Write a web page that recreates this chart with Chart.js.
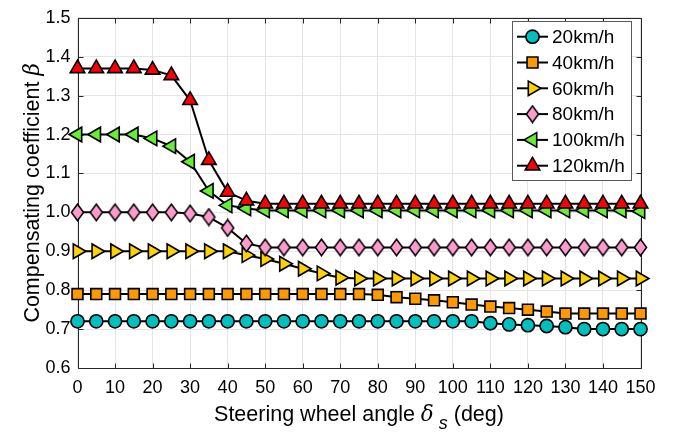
<!DOCTYPE html>
<html>
<head>
<meta charset="utf-8">
<script src="https://cdn.jsdelivr.net/npm/chart.js@4/dist/chart.umd.min.js"></script>
<style>
  html, body { margin: 0; padding: 0; background: #fff; }
  #wrap { width: 692px; height: 437px; }
</style>
</head>
<body>
<div id="wrap"><canvas id="c" width="692" height="437"></canvas></div>
<script>
// Steering wheel angle samples (deg)
const angles = [0, 5, 10, 15, 20, 25, 30, 35, 40, 45, 50, 55, 60, 65, 70, 75,
                80, 85, 90, 95, 100, 105, 110, 115, 120, 125, 130, 135, 140, 145, 150];

const speedLabels = ['20km/h', '40km/h', '60km/h', '80km/h', '100km/h', '120km/h'];

// Compensating coefficient beta for each vehicle speed
const beta20 = [0.72, 0.72, 0.72, 0.72, 0.72, 0.72, 0.72, 0.72, 0.72, 0.72, 0.72, 0.72, 0.72, 0.72, 0.72, 0.72,
                0.72, 0.72, 0.72, 0.72, 0.72, 0.72, 0.715, 0.712, 0.71, 0.708, 0.705, 0.70, 0.70, 0.70, 0.70];
const beta40 = [0.79, 0.79, 0.79, 0.79, 0.79, 0.79, 0.79, 0.79, 0.79, 0.79, 0.79, 0.79, 0.79, 0.79, 0.79, 0.79,
                0.788, 0.782, 0.778, 0.774, 0.769, 0.763, 0.758, 0.754, 0.75, 0.745, 0.74, 0.74, 0.74, 0.74, 0.74];
const beta60 = [0.90, 0.90, 0.90, 0.90, 0.90, 0.90, 0.90, 0.90, 0.90, 0.89, 0.88, 0.868, 0.855, 0.843, 0.832, 0.83,
                0.83, 0.83, 0.83, 0.83, 0.83, 0.83, 0.83, 0.83, 0.83, 0.83, 0.83, 0.83, 0.83, 0.83, 0.83];
const beta80 = [1.00, 1.00, 1.00, 1.00, 1.00, 1.00, 0.997, 0.988, 0.96, 0.92, 0.91, 0.91, 0.91, 0.91, 0.91, 0.91,
                0.91, 0.91, 0.91, 0.91, 0.91, 0.91, 0.91, 0.91, 0.91, 0.91, 0.91, 0.91, 0.91, 0.91, 0.91];
const beta100 = [1.20, 1.20, 1.20, 1.20, 1.19, 1.17, 1.13, 1.055, 1.018, 1.01, 1.005, 1.005, 1.005, 1.005, 1.005, 1.005,
                 1.005, 1.005, 1.005, 1.005, 1.005, 1.005, 1.005, 1.005, 1.005, 1.005, 1.005, 1.005, 1.005, 1.005, 1.003];
const beta120 = [1.37, 1.37, 1.37, 1.37, 1.366, 1.352, 1.288, 1.134, 1.052, 1.03, 1.022, 1.022, 1.022, 1.022, 1.022, 1.022,
                 1.022, 1.022, 1.022, 1.022, 1.022, 1.022, 1.022, 1.022, 1.022, 1.022, 1.022, 1.022, 1.022, 1.022, 1.022];

const xTicks = [0, 10, 20, 30, 40, 50, 60, 70, 80, 90, 100, 110, 120, 130, 140, 150];
const yTicks = [0.6, 0.7, 0.8, 0.9, 1.0, 1.1, 1.2, 1.3, 1.4, 1.5];

const FONT = "'Liberation Sans', Arial, Helvetica, sans-serif";
const AXIS_COLOR = '#262626';

// Tall diamond marker
function makeDiamond(fill) {
  const c = document.createElement('canvas');
  c.width = 15; c.height = 19;
  const g = c.getContext('2d');
  g.beginPath();
  g.moveTo(7.5, 1.2);
  g.lineTo(13.6, 9.5);
  g.lineTo(7.5, 17.8);
  g.lineTo(1.4, 9.5);
  g.closePath();
  g.fillStyle = fill;
  g.fill();
  g.lineWidth = 1.5;
  g.strokeStyle = '#000';
  g.stroke();
  return c;
}

const seriesValues = [beta20, beta40, beta60, beta80, beta100, beta120];
const seriesStyle = [
  { color: '#00BFBF', pointStyle: 'circle',   radius: 6.6, rotation: 0 },
  { color: '#FF9900', pointStyle: 'rect',     radius: 7.7, rotation: 0 },
  { color: '#FFD200', pointStyle: 'triangle', radius: 8.4, rotation: 90 },
  { color: '#FF9ACD', pointStyle: makeDiamond('#FF9ACD'), radius: 7.5, rotation: 0 },
  { color: '#66EE33', pointStyle: 'triangle', radius: 8.4, rotation: -90 },
  { color: '#FF0000', pointStyle: 'triangle', radius: 8.4, rotation: 0 }
];

const datasets = seriesValues.map((vals, i) => ({
  label: speedLabels[i],
  data: angles.map((a, k) => ({ x: a, y: vals[k] })),
  borderColor: '#000',
  borderWidth: 2,
  backgroundColor: seriesStyle[i].color,
  pointBackgroundColor: seriesStyle[i].color,
  pointBorderColor: '#000',
  pointBorderWidth: 1.6,
  pointStyle: seriesStyle[i].pointStyle,
  pointRadius: seriesStyle[i].radius,
  pointRotation: seriesStyle[i].rotation,
  tension: 0,
  fill: false,
  clip: false,
  order: seriesValues.length - i
}));

// Box around the axes with inward ticks
const framePlugin = {
  id: 'frame',
  beforeDatasetsDraw(chart) {
    const { ctx, chartArea: a, scales: { x, y } } = chart;
    const L = Math.round(a.left) + 0.5, R = Math.round(a.right) + 0.5;
    const T = Math.round(a.top) + 0.5, B = Math.round(a.bottom) + 0.5;
    ctx.save();
    ctx.strokeStyle = AXIS_COLOR;
    ctx.lineWidth = 1;
    ctx.beginPath();
    ctx.rect(L, T, R - L, B - T);
    const tl = 5;
    xTicks.forEach(v => {
      const px = Math.round(x.getPixelForValue(v)) + 0.5;
      ctx.moveTo(px, B); ctx.lineTo(px, B - tl);
      ctx.moveTo(px, T); ctx.lineTo(px, T + tl);
    });
    yTicks.forEach(v => {
      const py = Math.round(y.getPixelForValue(v)) + 0.5;
      ctx.moveTo(L, py); ctx.lineTo(L + tl, py);
      ctx.moveTo(R, py); ctx.lineTo(R - tl, py);
    });
    ctx.stroke();
    ctx.restore();
  }
};

// Axis titles with Greek symbols and subscript
const titlePlugin = {
  id: 'titles',
  afterDraw(chart) {
    const { ctx, chartArea: a } = chart;
    ctx.save();
    ctx.fillStyle = '#000';
    ctx.textBaseline = 'alphabetic';

    // x title
    const size = 21.5;
    const parts = [
      { t: 'Steering wheel angle ', f: `${size}px ${FONT}`, dy: 0 },
      { t: 'δ', f: `italic ${size}px 'DejaVu Serif', serif`, dy: 0 },
      { t: ' s', f: `italic ${Math.round(size * 0.82)}px ${FONT}`, dy: 8 },
      { t: ' (deg)', f: `${size}px ${FONT}`, dy: 0 }
    ];
    let w = 0;
    parts.forEach(p => { ctx.font = p.f; p.w = ctx.measureText(p.t).width; w += p.w; });
    let cx = (a.left + a.right) / 2 - w / 2;
    const base = 421;
    parts.forEach(p => { ctx.font = p.f; ctx.fillText(p.t, cx, base + p.dy); cx += p.w; });

    // y title, rotated
    const yparts = [
      { t: 'Compensating coefficient ', f: `${size}px ${FONT}` },
      { t: 'β', f: `italic ${size}px 'DejaVu Serif', serif` }
    ];
    let yw = 0;
    yparts.forEach(p => { ctx.font = p.f; p.w = ctx.measureText(p.t).width; yw += p.w; });
    ctx.translate(38.5, (a.top + a.bottom) / 2);
    ctx.rotate(-Math.PI / 2);
    let sx = -yw / 2;
    yparts.forEach(p => { ctx.font = p.f; ctx.fillText(p.t, sx, 0); sx += p.w; });
    ctx.restore();
  }
};

// Boxed legend with line samples and markers
const legendPlugin = {
  id: 'boxLegend',
  afterDraw(chart) {
    const { ctx } = chart;
    const box = { x: 512.5, y: 21.5, w: 119, h: 159 };
    ctx.save();
    ctx.fillStyle = '#fff';
    ctx.fillRect(box.x, box.y, box.w, box.h);
    ctx.strokeStyle = '#5a5a5a';
    ctx.lineWidth = 1;
    ctx.strokeRect(box.x, box.y, box.w, box.h);
    const rowH = 25.8;
    speedLabels.forEach((lab, i) => {
      const cy = 36.7 + i * rowH;
      ctx.strokeStyle = '#000';
      ctx.lineWidth = 2;
      ctx.beginPath();
      ctx.moveTo(517, cy); ctx.lineTo(548, cy);
      ctx.stroke();
      const st = seriesStyle[i];
      ctx.fillStyle = st.color;
      ctx.strokeStyle = '#000';
      ctx.lineWidth = 1.6;
      Chart.helpers.drawPoint(ctx, {
        pointStyle: st.pointStyle, radius: st.radius, rotation: st.rotation, borderWidth: 1.6
      }, 532.5, cy);
      ctx.fillStyle = '#000';
      ctx.font = `19px ${FONT}`;
      ctx.textBaseline = 'middle';
      ctx.textAlign = 'left';
      ctx.fillText(lab, 552, cy + 1);
    });
    ctx.restore();
  }
};

new Chart(document.getElementById('c'), {
  type: 'line',
  data: { datasets },
  plugins: [framePlugin, titlePlugin, legendPlugin],
  options: {
    responsive: false,
    animation: false,
    devicePixelRatio: 1,
    layout: { padding: { top: 13, right: 51.5, left: 0, bottom: 0 } },
    plugins: { legend: { display: false }, tooltip: { enabled: false } },
    elements: { line: { borderCapStyle: 'round', borderJoinStyle: 'round' } },
    scales: {
      x: {
        type: 'linear',
        min: 0, max: 150,
        afterFit(s) { s.height = 69; },
        afterBuildTicks(s) { s.ticks = xTicks.map(v => ({ value: v })); },
        grid: { color: '#e5e5e5', lineWidth: 1, drawTicks: false },
        border: { display: false },
        ticks: { color: '#000', padding: 9, maxRotation: 0, autoSkip: false,
                 font: { family: FONT, size: 18 } }
      },
      y: {
        type: 'linear',
        min: 0.6, max: 1.5,
        afterFit(s) { s.width = 77.5; },
        afterBuildTicks(s) { s.ticks = yTicks.map(v => ({ value: v })); },
        grid: { color: '#e5e5e5', lineWidth: 1, drawTicks: false },
        border: { display: false },
        ticks: { color: '#000', padding: 7, autoSkip: false,
                 font: { family: FONT, size: 18 },
                 callback: v => Number(v).toFixed(1) }
      }
    }
  }
});
</script>
</body>
</html>
